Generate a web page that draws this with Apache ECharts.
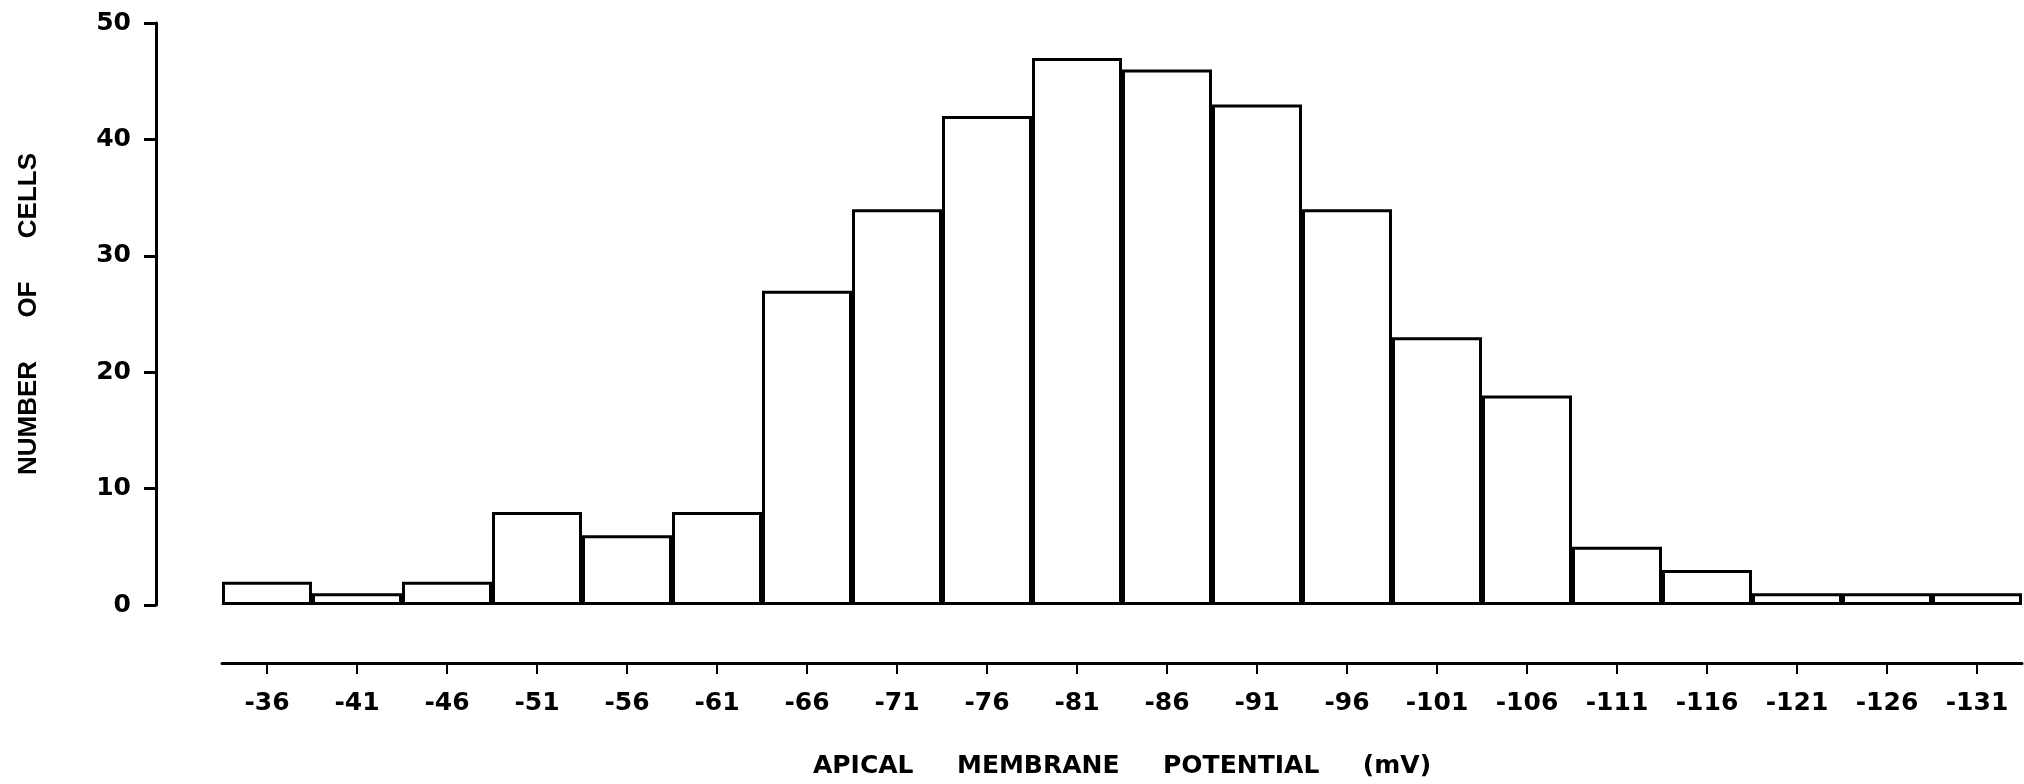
<!DOCTYPE html>
<html>
<head>
<meta charset="utf-8">
<title>Apical membrane potential histogram</title>
<script src="https://cdn.jsdelivr.net/npm/echarts@6/dist/echarts.min.js"></script>
<style>
  html, body { margin: 0; padding: 0; background: #fff; }
  #main { width: 2024px; height: 784px; }
</style>
</head>
<body>
<div id="main"></div>
<script>
// bins of apical membrane potential (mV) and how many cells fell in each
var potentials = ['-36', '-41', '-46', '-51', '-56', '-61', '-66', '-71', '-76', '-81',
                  '-86', '-91', '-96', '-101', '-106', '-111', '-116', '-121', '-126', '-131'];
var cellCounts = [2, 1, 2, 8, 6, 8, 27, 34, 42, 47,
                  46, 43, 34, 23, 18, 5, 3, 1, 1, 1];
var countTicks = [0, 10, 20, 30, 40, 50];

var chart = echarts.init(document.getElementById('main'), null, { renderer: 'canvas' });

var ink = '#000';
var font = 'DejaVu Sans';

var option = {
    backgroundColor: '#fff',
    animation: false,
    grid: { left: 222, right: 2, top: 23, bottom: 179, containLabel: false },
    xAxis: {
        type: 'category',
        data: potentials,
        offset: 58,
        name: 'APICAL     MEMBRANE     POTENTIAL     (mV)',
        nameLocation: 'middle',
        nameGap: 91,
        nameTextStyle: { color: ink, fontFamily: font, fontSize: 25, fontWeight: 'bold' },
        // the axis sits below the bars, not on the zero line
        axisLine: { show: true, onZero: false, lineStyle: { color: ink, width: 3 } },
        axisTick: { show: true, alignWithLabel: true, length: 11, lineStyle: { color: ink, width: 2 } },
        axisLabel: { color: ink, fontFamily: font, fontSize: 25, fontWeight: 'bold', margin: 28, interval: 0 },
        splitLine: { show: false }
    },
    yAxis: {
        type: 'value',
        min: countTicks[0],
        max: countTicks[countTicks.length - 1],
        interval: 10,
        offset: 66,
        name: 'NUMBER      OF      CELLS',
        nameLocation: 'middle',
        nameGap: 114,
        nameTextStyle: { color: ink, fontFamily: 'Liberation Sans', fontSize: 26, fontWeight: 'bold' },
        axisLine: { show: true, lineStyle: { color: ink, width: 3 } },
        axisTick: { show: true, length: 12, lineStyle: { color: ink, width: 3 } },
        axisLabel: { color: ink, fontFamily: font, fontSize: 25, fontWeight: 'bold', margin: 25 },
        splitLine: { show: false }
    },
    series: [{
        type: 'bar',
        data: cellCounts,
        barCategoryGap: '0%',
        itemStyle: { color: '#fff', borderColor: ink, borderWidth: 3 }
    }]
};

chart.setOption(option);
window.addEventListener('resize', function () { chart.resize(); });
</script>
</body>
</html>
